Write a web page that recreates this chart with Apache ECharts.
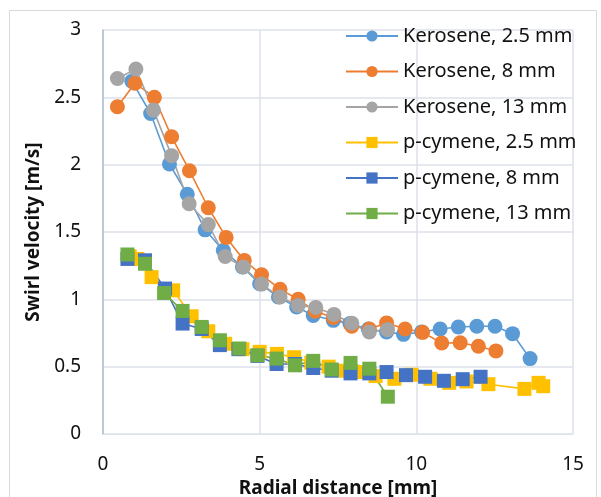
<!DOCTYPE html>
<html>
<head>
<meta charset="utf-8">
<script src="https://cdn.jsdelivr.net/npm/echarts@6/dist/echarts.min.js"></script>
<style>
  html, body { margin: 0; padding: 0; background: #fff; }
  #chart { width: 601px; height: 497px; }
</style>
</head>
<body>
<div id="chart"></div>
<script>
// radial positions [mm] and swirl velocities [m/s]
const keroX25 = [0.92, 1.52, 2.12, 2.69, 3.26, 3.84, 4.45, 5.0, 5.6, 6.18, 6.71, 7.35, 7.88, 8.47, 9.05, 9.59, 10.17, 10.76, 11.34, 11.93, 12.51, 13.07, 13.63];
const keroY25 = [2.62, 2.38, 2.005, 1.78, 1.516, 1.363, 1.24, 1.116, 1.017, 0.943, 0.88, 0.844, 0.82, 0.78, 0.758, 0.74, 0.758, 0.78, 0.795, 0.80, 0.80, 0.745, 0.56];

const keroX8 = [0.46, 1.02, 1.64, 2.19, 2.76, 3.36, 3.93, 4.51, 5.06, 5.65, 6.23, 6.77, 7.35, 7.94, 8.5, 9.05, 9.64, 10.2, 10.81, 11.4, 11.98, 12.54];
const keroY8 = [2.43, 2.605, 2.50, 2.207, 1.955, 1.68, 1.46, 1.289, 1.182, 1.075, 1.0, 0.912, 0.865, 0.80, 0.78, 0.825, 0.78, 0.755, 0.676, 0.678, 0.652, 0.617];

const keroX13 = [0.46, 1.05, 1.61, 2.19, 2.75, 3.36, 3.9, 4.48, 5.06, 5.65, 6.23, 6.79, 7.37, 7.94, 8.5, 9.08];
const keroY13 = [2.64, 2.71, 2.405, 2.067, 1.71, 1.555, 1.318, 1.24, 1.113, 1.017, 0.955, 0.94, 0.888, 0.823, 0.758, 0.775];

const cymX25 = [0.85, 1.1, 1.55, 2.24, 2.83, 3.36, 3.9, 4.45, 5.0, 5.55, 6.1, 6.65, 7.2, 7.75, 8.3, 8.7, 9.3, 9.85, 10.45, 11.05, 11.6, 12.3, 13.45, 13.9, 14.05];
const cymY25 = [1.32, 1.30, 1.165, 1.067, 0.874, 0.763, 0.67, 0.63, 0.61, 0.595, 0.57, 0.53, 0.50, 0.47, 0.46, 0.43, 0.41, 0.44, 0.41, 0.38, 0.39, 0.37, 0.335, 0.38, 0.355];

const cymX8 = [0.78, 1.34, 1.98, 2.54, 3.15, 3.73, 4.32, 4.93, 5.54, 6.13, 6.71, 7.3, 7.9, 8.5, 9.05, 9.67, 10.28, 10.88, 11.48, 12.05];
const cymY8 = [1.30, 1.29, 1.08, 0.82, 0.78, 0.66, 0.63, 0.58, 0.52, 0.52, 0.49, 0.47, 0.45, 0.45, 0.46, 0.437, 0.425, 0.395, 0.407, 0.425];

const cymX13 = [0.78, 1.34, 1.95, 2.54, 3.15, 3.73, 4.35, 4.93, 5.54, 6.13, 6.71, 7.3, 7.9, 8.5, 9.09];
const cymY13 = [1.333, 1.264, 1.047, 0.914, 0.795, 0.696, 0.635, 0.585, 0.56, 0.51, 0.543, 0.479, 0.528, 0.485, 0.277];

const seriesNames = ['Kerosene, 2.5 mm', 'Kerosene, 8 mm', 'Kerosene, 13 mm',
                     'p-cymene, 2.5 mm', 'p-cymene, 8 mm', 'p-cymene, 13 mm'];
const seriesColors = ['#5B9BD5', '#ED7D31', '#A5A5A5', '#FFC000', '#4472C4', '#70AD47'];
const seriesX = [keroX25, keroX8, keroX13, cymX25, cymX8, cymX13];
const seriesY = [keroY25, keroY8, keroY13, cymY25, cymY8, cymY13];

const xTicks = [0, 5, 10, 15];
const yTicks = [0, 0.5, 1, 1.5, 2, 2.5, 3];

const FontFamily = '"Noto Sans", "Open Sans", sans-serif';
const GridColor = '#dde1e8';

const myChart = echarts.init(document.getElementById('chart'));

const series = seriesNames.map((name, i) => ({
    name: name,
    type: 'line',
    data: seriesX[i].map((x, k) => [x, seriesY[i][k]]),
    symbol: i < 3 ? 'circle' : 'rect',
    symbolSize: i < 3 ? 15 : 14,
    lineStyle: { color: seriesColors[i], width: 1.6 },
    itemStyle: { color: seriesColors[i] },
    emphasis: { disabled: true },
    animation: false
}));

const option = {
    backgroundColor: '#fff',
    graphic: [{
        type: 'rect',
        shape: { x: 9.5, y: 10.5, width: 587, height: 500 },
        style: { fill: 'none', stroke: '#d9d9d9', lineWidth: 1 },
        silent: true
    }],
    legend: {
        orient: 'vertical',
        left: 340,
        top: 21,
        itemWidth: 52,
        itemHeight: 14,
        itemGap: 15.5,
        data: seriesNames,
        textStyle: { fontFamily: FontFamily, fontSize: 20, color: '#111' }
    },
    grid: {
        left: 103,
        right: 28,
        top: 30,
        bottom: 63,
        outerBoundsMode: 'none'
    },
    xAxis: {
        type: 'value',
        min: xTicks[0],
        max: xTicks[xTicks.length - 1],
        interval: 5,
        name: 'Radial distance [mm]',
        nameLocation: 'middle',
        nameGap: 44,
        nameTextStyle: { fontFamily: FontFamily, fontSize: 19, fontWeight: 'bold', color: '#111' },
        axisLine: { show: true, onZero: false, lineStyle: { color: GridColor } },
        axisTick: { show: false },
        axisLabel: { fontFamily: FontFamily, fontSize: 19, color: '#111', margin: 21 },
        splitLine: { show: true, lineStyle: { color: GridColor, width: 1.5 } }
    },
    yAxis: {
        type: 'value',
        min: yTicks[0],
        max: yTicks[yTicks.length - 1],
        interval: 0.5,
        name: 'Swirl velocity [m/s]',
        nameLocation: 'middle',
        nameGap: 60,
        nameTextStyle: { fontFamily: FontFamily, fontSize: 19, fontWeight: 'bold', color: '#111' },
        axisLine: { show: true, lineStyle: { color: '#b0bccd', width: 1.5 } },
        axisTick: { show: false },
        axisLabel: { fontFamily: FontFamily, fontSize: 19, color: '#111', margin: 22 },
        splitLine: { show: true, lineStyle: { color: GridColor, width: 1.5 } }
    },
    series
};

myChart.setOption(option);
</script>
</body>
</html>
